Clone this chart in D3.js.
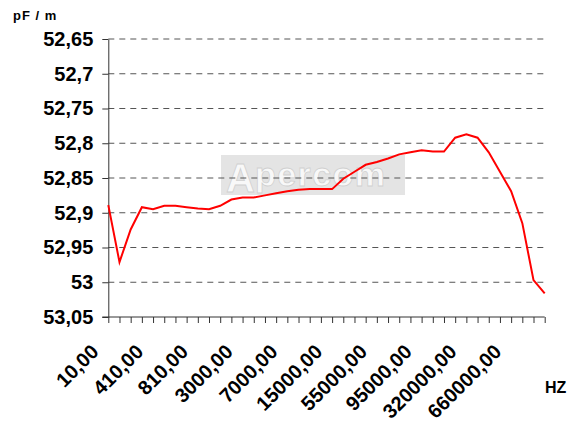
<!DOCTYPE html>
<html lang="en">
<head>
<meta charset="UTF-8">
<title>pF/m vs HZ</title>
<script src="https://cdn.jsdelivr.net/npm/d3@7"></script>
<style>
    body { margin: 0; background: #fff; }
    text { font-family: Arial, "Liberation Sans", sans-serif; font-weight: bold; }
</style>
</head>
<body>
<svg width="574" height="425"></svg>
<script>
// frequencies (only every 4th one is labelled)
var freqs = ["10,00", "110,00", "210,00", "310,00", "410,00", "510,00", "610,00", "710,00",
    "810,00", "1000,00", "1500,00", "2000,00", "3000,00", "4000,00", "5000,00", "6000,00",
    "7000,00", "9000,00", "11000,00", "13000,00", "15000,00", "25000,00", "35000,00", "45000,00",
    "55000,00", "65000,00", "75000,00", "85000,00", "95000,00", "150000,00", "200000,00", "260000,00",
    "320000,00", "400000,00", "490000,00", "575000,00", "660000,00", "760000,00", "860000,00", "960000,00"];
var capac = [52.889, 52.971, 52.924, 52.892, 52.895, 52.890, 52.890, 52.892,
    52.894, 52.895, 52.890, 52.881, 52.878, 52.878, 52.875, 52.872,
    52.869, 52.867, 52.866, 52.866, 52.866, 52.851, 52.841, 52.831,
    52.827, 52.822, 52.816, 52.813, 52.810, 52.812, 52.812, 52.792,
    52.787, 52.792, 52.813, 52.841, 52.869, 52.915, 52.997, 53.016];
var yTicks = [52.65, 52.7, 52.75, 52.8, 52.85, 52.9, 52.95, 53, 53.05];

var svg = d3.select("svg");
var x0 = 108.3, x1 = 544.7, y0 = 39, y1 = 317;

var x = d3.scalePoint().domain(freqs).range([x0, x1]);
var y = d3.scaleLinear().domain([52.65, 53.05]).range([y0, y1]);
var fmt = function (v) { return String(+v.toFixed(2)).replace(".", ","); };

// watermark (faint logo box)
var wm = svg.append("g").attr("opacity", 0.55);
wm.append("rect").attr("x", 221).attr("y", 155).attr("width", 184).attr("height", 40).attr("fill", "#cfcfcf");
wm.append("text").attr("x", 226).attr("y", 192).attr("font-size", 40).attr("fill", "#f4f4f4")
    .attr("stroke", "#aaa").attr("stroke-width", 0.8).text("A");
wm.append("text").attr("x", 255).attr("y", 186).attr("font-size", 34).attr("fill", "#f4f4f4")
    .attr("stroke", "#aaa").attr("stroke-width", 0.8).attr("textLength", 130).text("percom");

// dashed grid
svg.append("g").selectAll("line").data(yTicks.slice(0, -1)).enter().append("line")
    .attr("x1", x0).attr("x2", x1)
    .attr("y1", function (d) { return y(d); }).attr("y2", function (d) { return y(d); })
    .attr("stroke", "#555").attr("stroke-width", 1).attr("stroke-dasharray", "6,5");

// y axis
var yAxis = svg.append("g").attr("transform", "translate(" + x0 + ",0)")
    .call(d3.axisLeft(y).tickValues(yTicks).tickFormat(fmt).tickSize(6).tickSizeOuter(0).tickPadding(9));
yAxis.selectAll("text").attr("font-size", 20).attr("fill", "#000").style("font-family", "Arial, 'Liberation Sans', sans-serif");
yAxis.selectAll("line, path").attr("stroke", "#333");

// x axis
var xAxis = svg.append("g").attr("transform", "translate(0," + y1 + ")")
    .call(d3.axisBottom(x).tickSize(6).tickSizeOuter(0)
        .tickFormat(function (d, i) { return i % 4 === 0 ? d : ""; }));
xAxis.select("path").attr("stroke", "#333").attr("d", "M" + (x0 - 6) + ",0H" + x1);
xAxis.selectAll("line").attr("stroke", "#333");
xAxis.selectAll("text").attr("font-size", 20).attr("fill", "#000")
    .style("font-family", "Arial, 'Liberation Sans', sans-serif")
    .attr("text-anchor", "end").attr("dy", null).attr("y", 0)
    .attr("transform", "translate(-9,36) rotate(-45)");

// data line
svg.append("path").datum(capac)
    .attr("fill", "none").attr("stroke", "#ff0000").attr("stroke-width", 2)
    .attr("d", d3.line().x(function (d, i) { return x(freqs[i]); }).y(function (d) { return y(d); }));

// axis titles
svg.append("text").attr("x", 13).attr("y", 20).attr("font-size", 13).attr("letter-spacing", 1).text("pF / m");
svg.append("text").attr("x", 545).attr("y", 393).attr("font-size", 16).text("HZ");
</script>
</body>
</html>
